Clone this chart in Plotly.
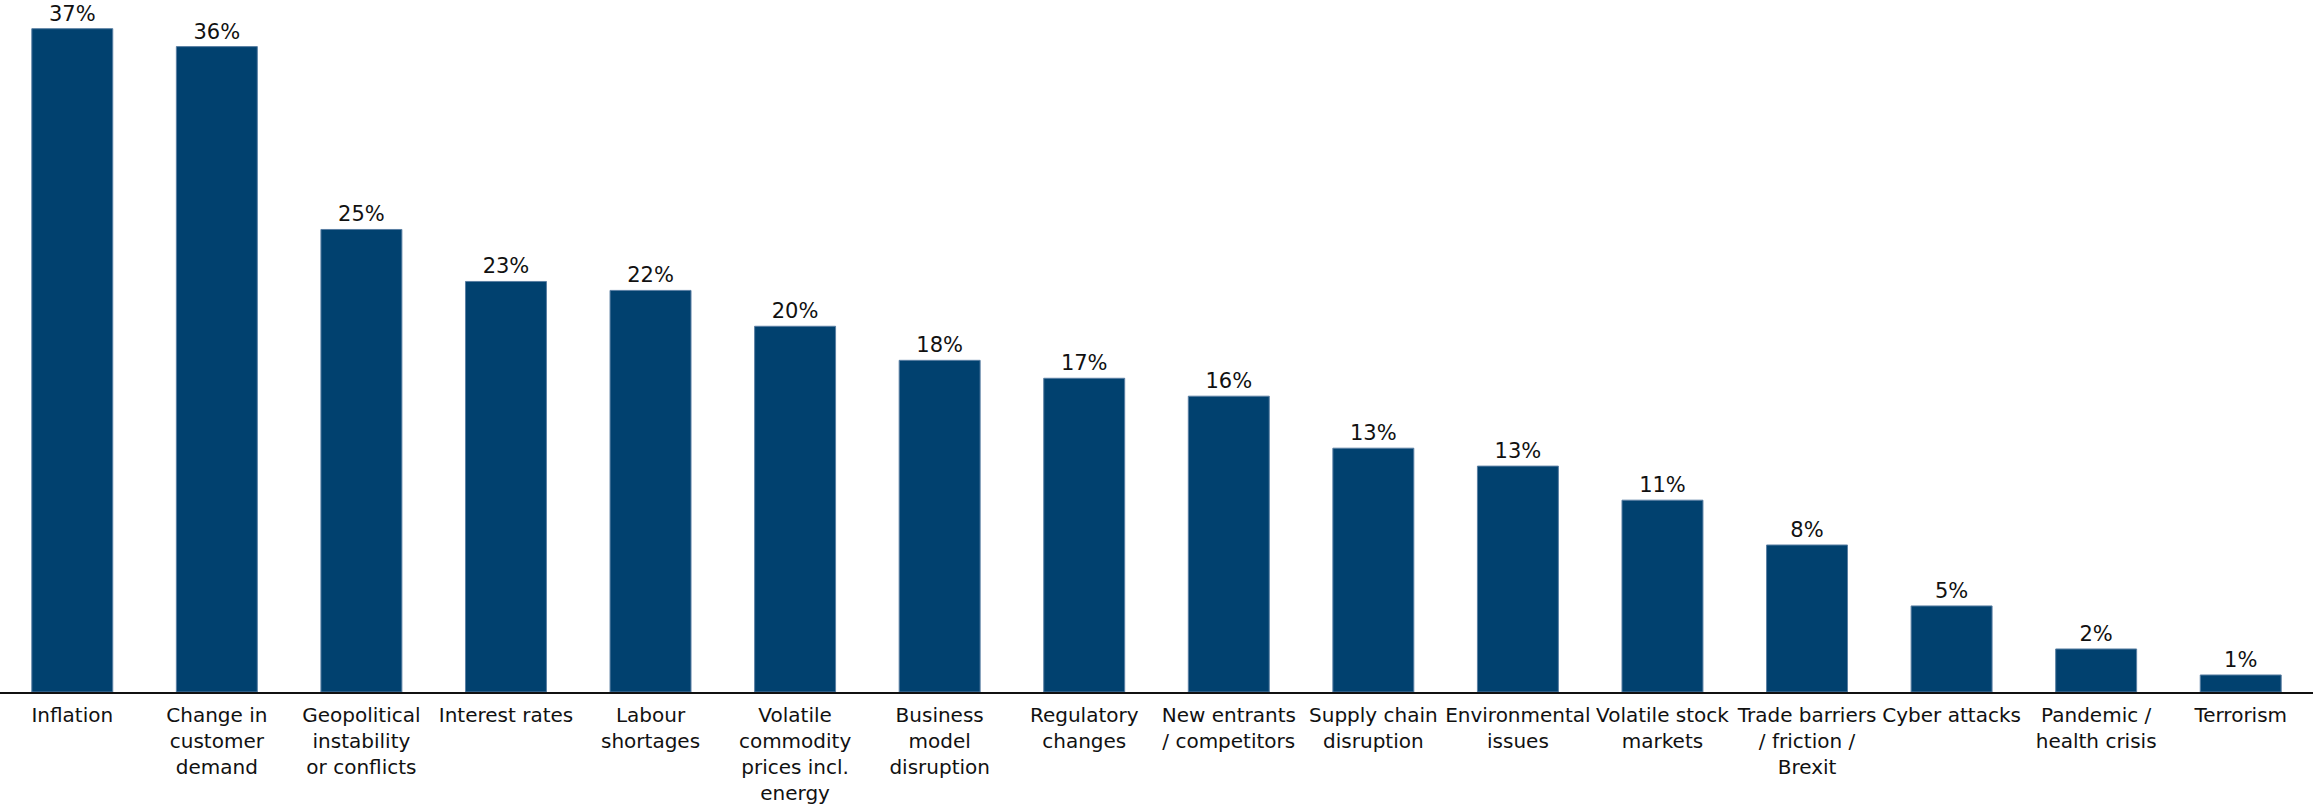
import plotly.graph_objects as go

categories = [
    "Inflation",
    "Change in<br>customer<br>demand",
    "Geopolitical<br>instability<br>or conflicts",
    "Interest rates",
    "Labour<br>shortages",
    "Volatile<br>commodity<br>prices incl.<br>energy",
    "Business<br>model<br>disruption",
    "Regulatory<br>changes",
    "New entrants<br>/ competitors",
    "Supply chain<br>disruption",
    "Environmental<br>issues",
    "Volatile stock<br>markets",
    "Trade barriers<br>/ friction /<br>Brexit",
    "Cyber attacks",
    "Pandemic /<br>health crisis",
    "Terrorism",
]
values = [37.0, 36.0, 25.8, 22.9, 22.4, 20.4, 18.5, 17.5, 16.5, 13.6, 12.6, 10.7, 8.2, 4.8, 2.4, 0.95]
labels = ["37%", "36%", "25%", "23%", "22%", "20%", "18%", "17%", "16%", "13%", "13%", "11%", "8%", "5%", "2%", "1%"]

FONT = "DejaVu Sans, sans-serif"

fig = go.Figure(go.Bar(
    x=list(range(len(categories))),
    y=values,
    text=labels,
    textposition="outside",
    textfont=dict(family=FONT, size=21, color="#111111"),
    cliponaxis=False,
    marker=dict(color="#01416F", line=dict(color="#5a7fa3", width=1)),
    hoverinfo="skip",
))

fig.update_layout(
    width=2313, height=804,
    margin=dict(l=0, r=0, t=0, b=112),
    plot_bgcolor="white", paper_bgcolor="white",
    bargap=0.44,
    showlegend=False,
    font=dict(family=FONT, size=20, color="#111111"),
)
fig.update_xaxes(
    tickmode="array",
    tickvals=list(range(len(categories))),
    ticktext=categories,
    range=[-0.5, len(categories) - 0.5],
    showline=True, linecolor="#111111", linewidth=2,
    ticks="outside", ticklen=4, tickcolor="rgba(0,0,0,0)",
    tickangle=0,
    tickfont=dict(family=FONT, size=20, color="#111111"),
    showgrid=False, zeroline=False,
)
fig.update_yaxes(
    range=[0, 38.6],
    visible=False,
    showgrid=False, zeroline=False,
)

fig.write_html(
    "out.html",
    config={"displayModeBar": False},
    post_script="document.body.style.margin='0';document.body.style.overflow='hidden';",
)
